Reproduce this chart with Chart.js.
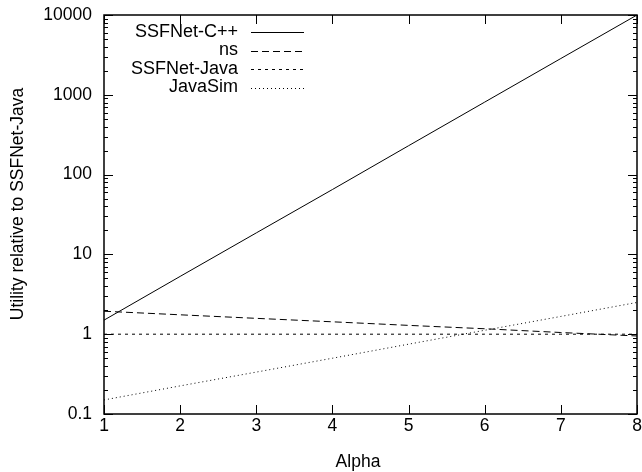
<!DOCTYPE html>
<html>
<head>
<meta charset="utf-8">
<script src="https://cdn.jsdelivr.net/npm/chart.js@4/dist/chart.umd.min.js"></script>
<style>
  html, body { margin: 0; padding: 0; background: #fff; }
  #wrap { width: 642px; height: 472px; }
</style>
</head>
<body>
<div id="wrap"><canvas id="utilityCanvas" width="642" height="472"></canvas></div>
<script>
// data
var alpha = [1, 2, 3, 4, 5, 6, 7, 8];
var ssfCpp = [1.5, 5.3, 18.6, 65, 230, 810, 2850, 10000];
var ns = [1.94, 1.75, 1.58, 1.43, 1.29, 1.17, 1.05, 0.95];
var ssfJava = [1, 1, 1, 1, 1, 1, 1, 1];
var javaSim = [0.15, 0.225, 0.335, 0.5, 0.75, 1.12, 1.67, 2.5];
var seriesNames = ["SSFNet-C++", "ns", "SSFNet-Java", "JavaSim"];
var yTicks = [0.1, 1, 10, 100, 1000, 10000];
var xTicks = [1, 2, 3, 4, 5, 6, 7, 8];

var FAMILY = '"Liberation Sans", Arial, sans-serif';

function pts(vals) {
    return alpha.map(function (a, i) { return { x: a, y: vals[i] }; });
}

// frame, gnuplot style ticks, legend and axis titles
var gnuplotLook = {
    id: "gnuplotLook",
    afterDatasetsDraw: function (chart) {
        var ctx = chart.ctx;
        var a = chart.chartArea;
        var xs = chart.scales.x, ys = chart.scales.y;
        ctx.save();
        ctx.strokeStyle = "#000";
        ctx.lineWidth = 1;
        ctx.setLineDash([]);
        ctx.beginPath();
        // y ticks (major and minor), both sides
        for (var d = 0; d < yTicks.length; d++) {
            for (var m = 1; m <= 9; m++) {
                var v = yTicks[d] * m;
                if (v > yTicks[yTicks.length - 1]) break;
                var py = Math.round(ys.getPixelForValue(v)) + 0.5;
                var len = m == 1 ? 9 : 4;
                ctx.moveTo(a.left, py); ctx.lineTo(a.left + len, py);
                ctx.moveTo(a.right, py); ctx.lineTo(a.right - len, py);
            }
        }
        // x ticks, bottom and top
        for (var i = 0; i < xTicks.length; i++) {
            var px = Math.round(xs.getPixelForValue(xTicks[i])) + 0.5;
            ctx.moveTo(px, a.bottom); ctx.lineTo(px, a.bottom - 9);
            ctx.moveTo(px, a.top); ctx.lineTo(px, a.top + 9);
        }
        ctx.stroke();
        ctx.lineWidth = 1.5;
        ctx.strokeRect(a.left, a.top, a.right - a.left, a.bottom - a.top);

        // legend
        ctx.font = "18px " + FAMILY;
        ctx.fillStyle = "#000";
        ctx.textAlign = "right";
        ctx.textBaseline = "middle";
        chart.data.datasets.forEach(function (ds, k) {
            var ly = 32 + k * 18.5;
            ctx.fillText(ds.label, 238, ly);
            ctx.beginPath();
            ctx.lineWidth = 1;
            ctx.setLineDash(ds.borderDash || []);
            ctx.moveTo(251, Math.round(ly) + 0.5);
            ctx.lineTo(304, Math.round(ly) + 0.5);
            ctx.stroke();
        });
        ctx.setLineDash([]);

        // axis titles
        ctx.font = "17.5px " + FAMILY;
        ctx.textAlign = "center";
        ctx.fillText("Alpha", 358, 462);
        ctx.translate(18, 204);
        ctx.rotate(-Math.PI / 2);
        ctx.fillText("Utility relative to SSFNet-Java", 0, 0);
        ctx.restore();
    }
};

var ctx = document.getElementById("utilityCanvas");
var lineChart = new Chart(ctx, {
    type: "line",
    data: {
        datasets: [{
            label: seriesNames[0],
            data: pts(ssfCpp),
            borderDash: []
        }, {
            label: seriesNames[1],
            data: pts(ns),
            borderDash: [7, 4]
        }, {
            label: seriesNames[2],
            data: pts(ssfJava),
            borderDash: [3, 4]
        }, {
            label: seriesNames[3],
            data: pts(javaSim),
            borderDash: [1, 3]
        }]
    },
    options: {
        responsive: false,
        animation: false,
        layout: { padding: { top: 15, right: 5, left: 0, bottom: 0 } },
        elements: {
            point: { radius: 0 },
            line: { borderColor: "#000", borderWidth: 1, tension: 0 }
        },
        plugins: {
            legend: { display: false },
            tooltip: { enabled: false }
        },
        scales: {
            x: {
                type: "linear",
                min: 1,
                max: 8,
                grid: { display: false, drawTicks: false },
                border: { display: false },
                afterBuildTicks: function (s) {
                    s.ticks = xTicks.map(function (v) { return { value: v }; });
                },
                afterFit: function (s) {
                    s.height = 58;
                    s.paddingLeft = 0;
                    s.paddingRight = 0;
                },
                ticks: {
                    color: "#000",
                    font: { family: FAMILY, size: 17.5 },
                    padding: 2,
                    maxRotation: 0,
                    autoSkip: false
                }
            },
            y: {
                type: "logarithmic",
                min: 0.1,
                max: 10000,
                grid: { display: false, drawTicks: false },
                border: { display: false },
                afterBuildTicks: function (s) {
                    s.ticks = yTicks.map(function (v) { return { value: v }; });
                },
                afterFit: function (s) {
                    s.width = 104;
                    s.paddingTop = 0;
                    s.paddingBottom = 0;
                },
                ticks: {
                    color: "#000",
                    font: { family: FAMILY, size: 17.5 },
                    padding: 12,
                    callback: function (v) { return String(v); }
                }
            }
        }
    },
    plugins: [gnuplotLook]
});
</script>
</body>
</html>
